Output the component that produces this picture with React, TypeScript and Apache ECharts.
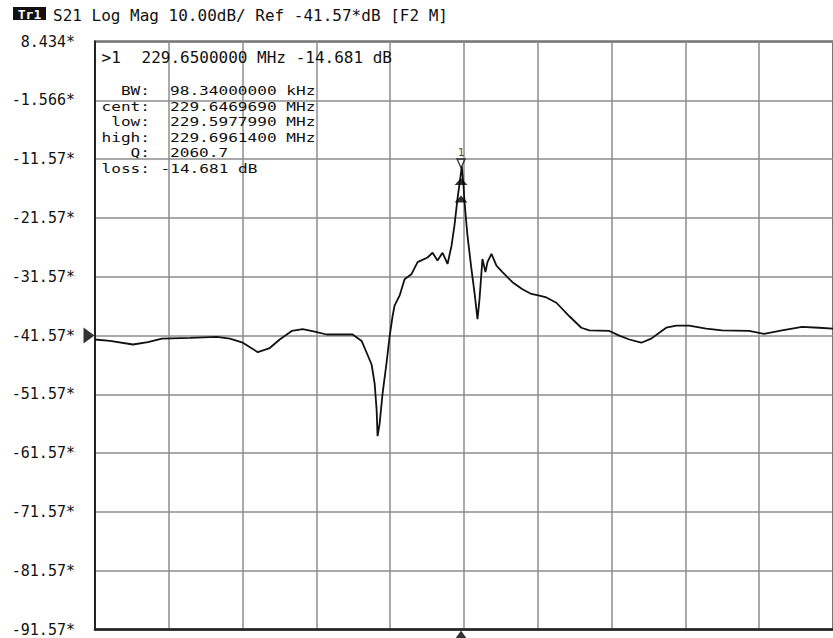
import React, { useEffect, useRef } from "react";
import * as echarts from "echarts";

// Trace: horizontal position in grid divisions (0..100 = 10 divisions), level in dB
const traceX = [
  0, 2.03, 5.14, 7.17, 9.07, 12.86, 16.51, 18.27, 20.03, 22.06, 23.68, 25.03, 26.66, 28.15, 29.77,
  31.39, 34.91, 36.13, 36.81, 37.48, 37.89, 38.16, 38.29, 38.57, 38.97, 39.51, 39.92, 40.32, 40.59,
  41.27, 41.95, 42.9, 43.71, 45.06, 45.74, 46.41, 47.09, 47.77, 48.31, 48.71, 49.12, 49.5, 49.7,
  49.93, 50.07, 50.47, 51.01, 51.42, 51.83, 52.1, 52.37, 52.5, 52.91, 53.18, 53.72, 54.4, 55.21,
  56.56, 57.92, 59.13, 60.22, 61.16, 62.52, 64.28, 65.9, 66.98, 69.69, 71.04, 72.4, 74.02, 75.37,
  76.46, 77.4, 78.76, 80.51, 82.81, 84.98, 88.63, 90.66, 93.1, 95.81, 98.11, 100,
];
const traceDb = [
  -42.25, -42.5, -43.1, -42.7, -42.1, -41.96, -41.8, -42.1, -42.8, -44.4, -43.7, -42.25, -40.8, -40.5,
  -40.9, -41.4, -41.4, -42.5, -44.5, -46.5, -49.7, -54.2, -58.7, -56.5, -51.4, -46.2, -41.7, -38.3,
  -36.5, -34.8, -32.0, -31.1, -29.1, -28.3, -27.5, -28.8, -27.5, -29.4, -26.3, -22.85, -18.3, -14.8,
  -12.8, -16.0, -18.85, -24.6, -30.3, -34.25, -38.8, -35.4, -30.8, -28.55, -30.8, -29.1, -27.7,
  -29.7, -30.8, -32.5, -33.7, -34.5, -34.8, -35.1, -36.0, -38.3, -40.25, -40.7, -40.8, -41.6, -42.25,
  -42.8, -42.1, -41.1, -40.25, -39.9, -39.9, -40.4, -40.7, -40.8, -41.3, -40.7, -40.1, -40.25, -40.4,
];

const yTickLabels = [
  "-91.57*", "-81.57*", "-71.57*", "-61.57*", "-51.57*", "-41.57*",
  "-31.57*", "-21.57*", "-11.57*", "-1.566*", "8.434*",
];
const Y_MIN = -91.57;
const Y_MAX = 8.43;
const REF_LEVEL = -41.57;
const MARKER_X = 49.6;
const MARKER_DB = -14.681;
const BW_DB = -17.681;

const titleText = "S21 Log Mag 10.00dB/ Ref -41.57*dB [F2 M]";
const markerLine = ["\u003e1", "229.6500000 MHz -14.681 dB"];
const statLabels = ["BW:", "cent:", "low:", "high:", "Q:", "loss:"];
const statValues = ["98.34000000 kHz", "229.6469690 MHz", "229.5977990 MHz", "229.6961400 MHz", "2060.7", "-14.681 dB"];

const MONO = '"DejaVu Sans Mono", "Liberation Mono", monospace';

export default function App() {
  const ref = useRef<HTMLDivElement>(null);

  useEffect(() => {
    if (!ref.current) return;
    const chart = echarts.init(ref.current, undefined, { renderer: "svg" });

    const graphics: any[] = [
      { type: "rect", shape: { x: 13, y: 7, width: 33, height: 13 }, style: { fill: "#111" } },
      { type: "text", x: 29.5, y: 14, style: { text: "Tr1", font: `bold 13px ${MONO}`, fill: "#fff", align: "center", verticalAlign: "middle" } },
      { type: "text", x: 53, y: 15, style: { text: titleText, font: `16px ${MONO}`, fill: "#111", verticalAlign: "middle" } },
      { type: "text", x: 101.5, y: 57, z: 20, style: { text: markerLine[0], font: `16px ${MONO}`, fill: "#111", verticalAlign: "middle" } },
      { type: "text", x: 141.5, y: 57, z: 20, style: { text: markerLine[1], font: `16px ${MONO}`, fill: "#111", verticalAlign: "middle" } },
    ];
    const lineYs = [90.5, 106, 121.5, 137, 152.5, 168];
    statLabels.forEach((lab, i) => {
      graphics.push({ type: "text", x: 150, y: lineYs[i], scaleX: 1.24, z: 20, style: { text: lab, font: `13px ${MONO}`, fill: "#111", align: "right", verticalAlign: "middle" } });
      const isNeg = statValues[i].startsWith("-");
      graphics.push({ type: "text", x: isNeg ? 160.5 : 170, y: lineYs[i], scaleX: 1.24, z: 20, style: { text: statValues[i], font: `13px ${MONO}`, fill: "#111", verticalAlign: "middle" } });
    });

    chart.setOption({
      animation: false,
      backgroundColor: "#ffffff",
      grid: { left: 95, top: 41.5, width: 739, height: 588, show: true, borderColor: "#333", borderWidth: 2, containLabel: false },
      xAxis: {
        type: "value", min: 0, max: 100, interval: 10,
        axisLabel: { show: false }, axisTick: { show: false },
        axisLine: { show: true, onZero: false, lineStyle: { color: "#222", width: 2.5 } },
        splitLine: { show: true, lineStyle: { color: "#8c8c8c", width: 1.5 } },
      },
      yAxis: {
        type: "value", min: Y_MIN, max: Y_MAX, interval: 10,
        axisTick: { show: false },
        axisLine: { show: true, onZero: false, lineStyle: { color: "#222", width: 2 } },
        splitLine: { show: true, lineStyle: { color: "#8c8c8c", width: 1.5 } },
        axisLabel: {
          margin: 20, color: "#111", fontFamily: MONO, fontSize: 15,
          formatter: (v: number) => yTickLabels[Math.round((v - Y_MIN) / 10)] ?? "",
        },
      },
      graphic: graphics,
      series: [
        {
          type: "line", data: traceX.map((x, i) => [x, traceDb[i]]), showSymbol: false, symbol: "none",
          lineStyle: { color: "#111", width: 1.8 }, z: 5,
        },
        {
          type: "scatter", clip: false, z: 10, data: [[0, REF_LEVEL]],
          symbol: "path://M0,0L12,8L0,16Z", symbolSize: [11, 16], symbolOffset: [-6, 0],
          itemStyle: { color: "#000" },
        },
        {
          type: "scatter", clip: false, z: 10, data: [[MARKER_X, Y_MIN]],
          symbol: "path://M6,0L12,10L0,10Z", symbolSize: [14, 10], symbolOffset: [0, 6],
          itemStyle: { color: "#000" },
        },
        {
          type: "scatter", clip: false, z: 10, data: [[MARKER_X, MARKER_DB]],
          symbol: "path://M0,0L10,0L5,10Z", symbolSize: [8, 9], symbolOffset: [0, -14],
          itemStyle: { color: "transparent", borderColor: "#111", borderWidth: 1.4 },
          label: { show: true, position: "top", distance: 0, formatter: "1", fontSize: 11, fontFamily: MONO, color: "#111" },
        },
        {
          type: "scatter", clip: false, z: 10, data: [[MARKER_X, MARKER_DB], [MARKER_X, BW_DB]],
          symbol: "path://M6,0L12,7L0,7Z", symbolSize: [13, 7], symbolOffset: [0, 4],
          itemStyle: { color: "#000" },
        },
      ],
    });
    return () => chart.dispose();
  }, []);

  return (
    <div
      ref={ref}
      style={{ position: "fixed", left: 0, top: 0, width: 833, height: 638, background: "#fff" }}
    />
  );
}
